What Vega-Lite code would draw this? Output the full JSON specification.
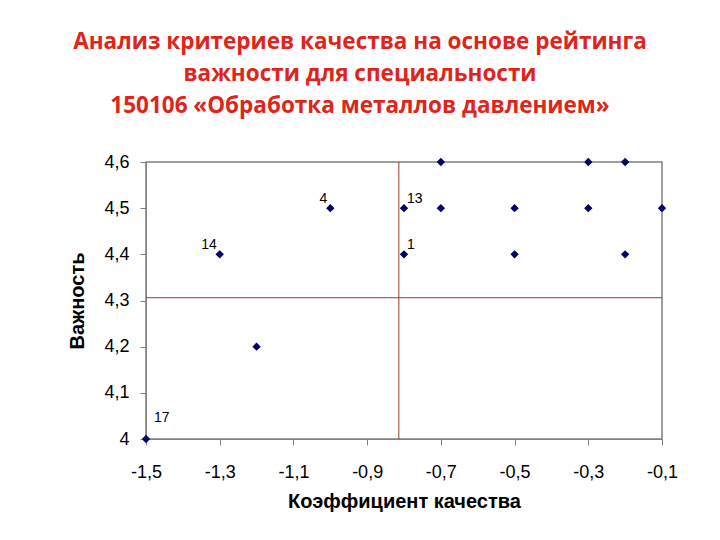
{
  "$schema": "https://vega.github.io/schema/vega-lite/v6.json",
  "autosize": "none",
  "width": 516,
  "height": 277,
  "padding": {"left": 146, "top": 162, "right": 58, "bottom": 101},
  "background": "white",
  "title": {
    "text": ["Анализ критериев качества на основе рейтинга", "важности для специальности", "150106 «Обработка металлов давлением»"],
    "anchor": "middle",
    "dx": -44,
    "offset": 36,
    "font": "Open Sans",
    "fontSize": 22.5,
    "fontWeight": "bold",
    "lineHeight": 32,
    "color": "#e0241a"
  },
  "config": {
    "view": {"stroke": "#808080", "strokeWidth": 1.5},
    "axis": {
      "grid": false,
      "labelFlush": false,
      "domainColor": "#808080",
      "tickColor": "#808080",
      "tickSize": 6,
      "labelFont": "Liberation Sans",
      "labelFontSize": 18,
      "labelColor": "#000000",
      "titleFont": "Liberation Sans",
      "titleFontSize": 20,
      "titleFontWeight": "bold",
      "titleColor": "#000000"
    }
  },
  "datasets": {
    "points": [
      {"coef": -1.5, "imp": 4.0, "label": "17"},
      {"coef": -1.2, "imp": 4.2, "label": ""},
      {"coef": -1.3, "imp": 4.4, "label": "14"},
      {"coef": -1.0, "imp": 4.5, "label": "4"},
      {"coef": -0.8, "imp": 4.5, "label": "13"},
      {"coef": -0.8, "imp": 4.4, "label": "1"},
      {"coef": -0.7, "imp": 4.6, "label": ""},
      {"coef": -0.7, "imp": 4.5, "label": ""},
      {"coef": -0.5, "imp": 4.5, "label": ""},
      {"coef": -0.5, "imp": 4.4, "label": ""},
      {"coef": -0.3, "imp": 4.6, "label": ""},
      {"coef": -0.3, "imp": 4.5, "label": ""},
      {"coef": -0.2, "imp": 4.6, "label": ""},
      {"coef": -0.2, "imp": 4.4, "label": ""},
      {"coef": -0.1, "imp": 4.5, "label": ""}
    ],
    "vline": [{"coef": -0.814}],
    "hline": [{"imp": 4.306}]
  },
  "layer": [
    {
      "data": {"name": "vline"},
      "mark": {"type": "rule", "color": "#a03a2a", "strokeWidth": 1},
      "encoding": {
        "x": {"field": "coef", "type": "quantitative", "scale": {"domain": [-1.5, -0.1], "nice": false, "zero": false}}
      }
    },
    {
      "data": {"name": "hline"},
      "mark": {"type": "rule", "color": "#a03a2a", "strokeWidth": 1},
      "encoding": {
        "y": {"field": "imp", "type": "quantitative", "scale": {"domain": [4, 4.6], "nice": false, "zero": false}}
      }
    },
    {
      "data": {"name": "points"},
      "mark": {"type": "point", "shape": "diamond", "filled": true, "size": 70, "color": "#000066", "opacity": 1},
      "encoding": {
        "x": {
          "field": "coef", "type": "quantitative",
          "scale": {"domain": [-1.5, -0.1], "nice": false, "zero": false},
          "axis": {
            "title": "Коэффициент качества",
            "values": [-1.5, -1.3, -1.1, -0.9, -0.7, -0.5, -0.3, -0.1],
            "labelExpr": "'-' + replace(format(abs(datum.value), '.1f'), '.', ',')",
            "labelPadding": 18,
            "titlePadding": 10
          }
        },
        "y": {
          "field": "imp", "type": "quantitative",
          "scale": {"domain": [4, 4.6], "nice": false, "zero": false},
          "axis": {
            "title": "Важность",
            "values": [4, 4.1, 4.2, 4.3, 4.4, 4.5, 4.6],
            "labelExpr": "datum.value < 4.05 ? '4' : replace(format(datum.value, '.1f'), '.', ',')",
            "labelPadding": 11,
            "titlePadding": 16
          }
        }
      }
    },
    {
      "data": {"name": "points"},
      "transform": [{"filter": "datum.label == '14' || datum.label == '4'"}],
      "mark": {"type": "text", "align": "right", "baseline": "bottom", "dx": -3, "dy": -2, "font": "Liberation Sans", "fontSize": 14, "color": "#000000"},
      "encoding": {
        "x": {"field": "coef", "type": "quantitative"},
        "y": {"field": "imp", "type": "quantitative"},
        "text": {"field": "label"}
      }
    },
    {
      "data": {"name": "points"},
      "transform": [{"filter": "datum.label == '13' || datum.label == '1'"}],
      "mark": {"type": "text", "align": "left", "baseline": "bottom", "dx": 3, "dy": -2, "font": "Liberation Sans", "fontSize": 14, "color": "#000000"},
      "encoding": {
        "x": {"field": "coef", "type": "quantitative"},
        "y": {"field": "imp", "type": "quantitative"},
        "text": {"field": "label"}
      }
    },
    {
      "data": {"name": "points"},
      "transform": [{"filter": "datum.label == '17'"}],
      "mark": {"type": "text", "align": "left", "baseline": "bottom", "dx": 8, "dy": -14, "font": "Liberation Sans", "fontSize": 14, "color": "#000000"},
      "encoding": {
        "x": {"field": "coef", "type": "quantitative"},
        "y": {"field": "imp", "type": "quantitative"},
        "text": {"field": "label"}
      }
    }
  ]
}
